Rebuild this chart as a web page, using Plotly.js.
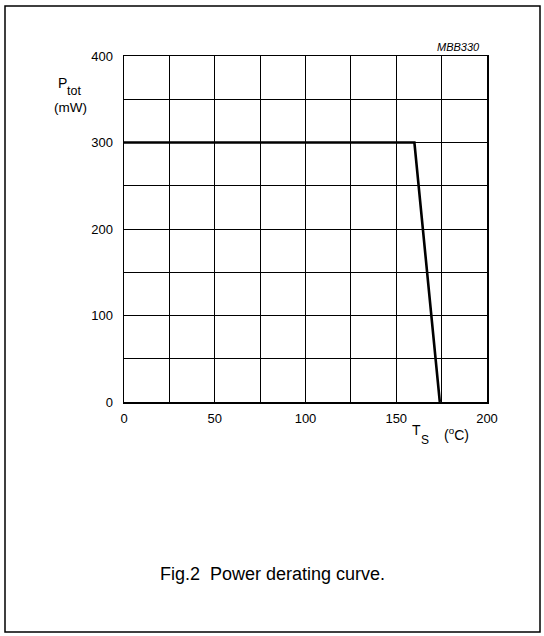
<!DOCTYPE html>
<html><head><meta charset="utf-8">
<script src="https://cdn.plot.ly/plotly-3.0.1.min.js"></script>
<style>html,body{margin:0;padding:0;background:#fff}#chart{width:544px;height:636px}</style>
</head><body><div id="chart"></div>
<script>
// Data
const temperature = [0, 160, 174];      // Ts (°C)
const power = [300, 300, 0];            // Ptot (mW)
const xTickVals = [0, 25, 50, 75, 100, 125, 150, 175, 200];
const xTickText = ['0', '', '50', '', '100', '', '150', '', '200'];
const yTickVals = [0, 50, 100, 150, 200, 250, 300, 350, 400];
const yTickText = ['0', '', '100', '', '200', '', '300', '', '400'];

const W = 544, H = 636;
const L = 124, R = 487, T = 56, B = 402;
const px = x => (x - L) / (R - L);
const py = y => (B - y) / (B - T);
const font = 'Liberation Sans, Arial, sans-serif';

const trace = {
  x: temperature, y: power, type: 'scatter', mode: 'lines',
  line: {color: '#000', width: 2.6}, hoverinfo: 'none', showlegend: false
};

function txt(text, x, y, size, anchor, extra) {
  return Object.assign({text: text, xref: 'paper', yref: 'paper', x: px(x), y: py(y),
    xanchor: anchor || 'left', yanchor: 'middle', showarrow: false,
    font: {family: font, size: size, color: '#000'}}, extra || {});
}

const layout = {
  width: W, height: H,
  margin: {l: L, r: W - R, t: T, b: H - B, pad: 0},
  paper_bgcolor: '#fff', plot_bgcolor: '#fff',
  font: {family: font, color: '#000', size: 13},
  xaxis: {
    range: [0, 200], tickvals: xTickVals, ticktext: xTickText,
    showgrid: true, gridcolor: '#000', gridwidth: 1,
    showline: true, linecolor: '#000', linewidth: 1.5, mirror: true,
    zeroline: false, ticks: '', ticklabelstandoff: 4,
    tickfont: {family: font, size: 13, color: '#000'}, fixedrange: true
  },
  yaxis: {
    range: [0, 400], tickvals: yTickVals, ticktext: yTickText,
    showgrid: true, gridcolor: '#000', gridwidth: 1,
    showline: true, linecolor: '#000', linewidth: 1.5, mirror: true,
    zeroline: false, ticks: '', ticklabelstandoff: 7,
    tickfont: {family: font, size: 13, color: '#000'}, fixedrange: true
  },
  shapes: [{
    type: 'rect', xref: 'paper', yref: 'paper', layer: 'above',
    x0: px(5), x1: px(540), y0: py(632), y1: py(6),
    line: {color: '#000', width: 1.5}, fillcolor: 'rgba(0,0,0,0)'
  }],
  annotations: [
    txt('<i>MBB330</i>', 482, 47, 11, 'right'),
    txt('P', 56, 83, 14),
    txt('tot', 65, 91, 12.5),
    txt('(mW)', 52, 107, 13.5),
    txt('T', 410, 430, 14),
    txt('S', 419, 440, 12),
    txt('(<sup>o</sup>C)', 442, 434, 14),
    txt('Fig.2  Power derating curve.', 272, 574, 18, 'center')
  ]
};

Plotly.newPlot('chart', [trace], layout, {staticPlot: true, displayModeBar: false});
</script></body></html>
